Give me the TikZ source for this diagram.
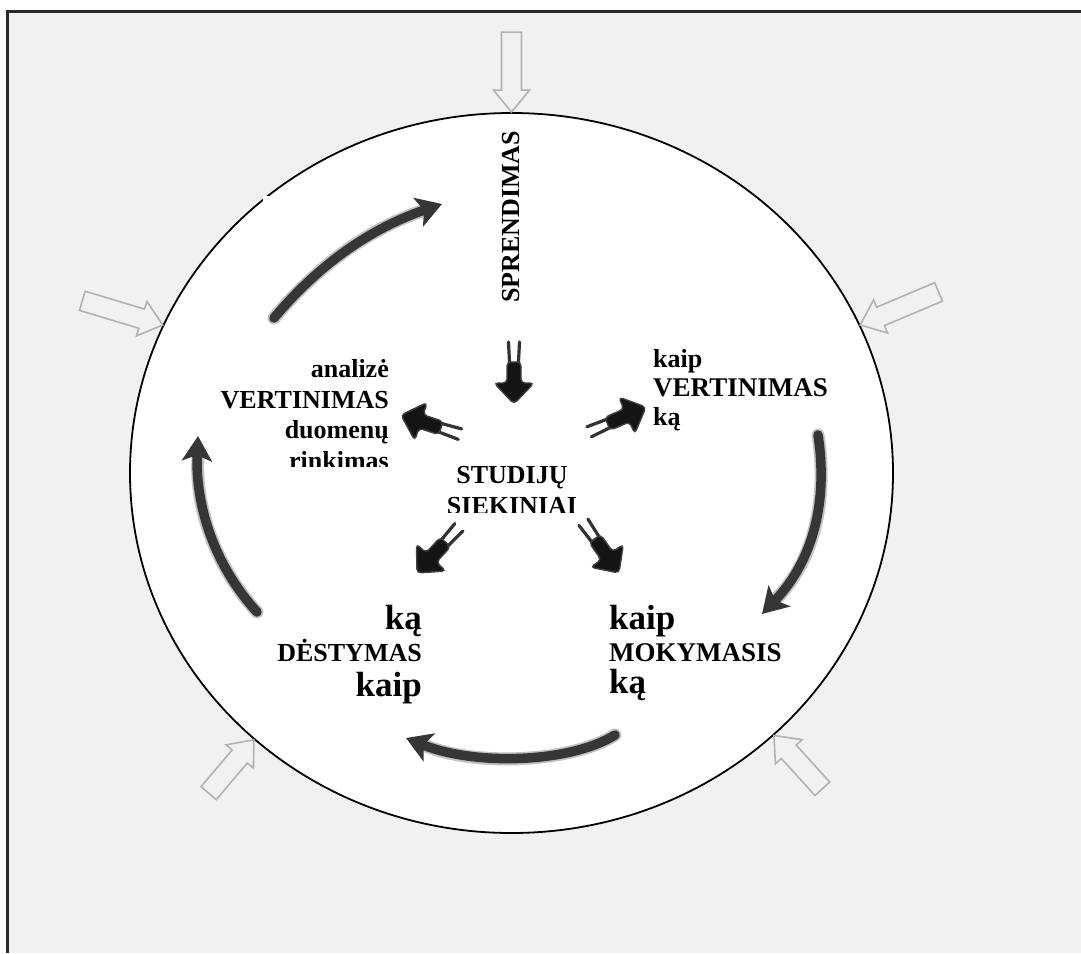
\documentclass[tikz,border=0pt]{standalone}
\usepackage{fontspec}
\setmainfont{Liberation Serif}
\usetikzlibrary{arrows.meta,shapes.geometric}

\definecolor{bggray}{HTML}{F1F1F1}
\definecolor{framegray}{HTML}{2A2A2A}
\definecolor{hollowgray}{HTML}{B2B2B2}
\definecolor{sweep}{HTML}{363636}

\tikzset{
  hollow/.style={draw=hollowgray, line width=1.6pt, fill=bggray, line join=miter},
  sweepline/.style={draw=sweep, line width=9.5pt, line cap=round,
    -{Stealth[length=25pt,width=30pt,inset=6pt]}},
  sweephalo/.style={draw=sweep, opacity=0.3, line width=13pt, line cap=round},
  lbl/.style={font=\bfseries\fontsize{26}{30}\selectfont, inner sep=0pt},
  midlbl/.style={font=\bfseries\fontsize{27}{30}\selectfont, inner sep=0pt},
  biglbl/.style={font=\bfseries\fontsize{35}{38}\selectfont, inner sep=0pt},
  % outlined block arrow, tip at the origin, pointing along +x
  pics/hollowarrow/.style={code={
    \draw[hollow] (0,0) -- (-22,18) -- (-22,10) -- (-#1,10) -- (-#1,-10)
      -- (-22,-10) -- (-22,-18) -- cycle;}},
  % black arrow with a forked tail, tip at the origin, pointing along +x
  pics/feather/.style={code={
    \draw[black!80, line width=3.2pt, line cap=round]
      (-36,4.2) -- (-62,5.5) (-36,-4.2) -- (-62,-5.5);
    \filldraw[fill=black!92, draw=black!75, line width=1.4pt, rounded corners=4pt]
      (0,0) -- (-21,-20) -- (-21,-7) -- (-42,-7) -- (-42,7) -- (-21,7)
      -- (-21,20) -- cycle;}},
}

\begin{document}
\begin{tikzpicture}[x=1pt,y=-1pt]
  \useasboundingbox (0,0) rectangle (1081,953);
  \fill[white] (0,0) rectangle (1081,953);
  \fill[bggray] (7,11) rectangle (1081,953);
  \draw[framegray, line width=3pt] (7,953) -- (7,11) -- (1081,11);

  % the ring
  \node[ellipse, draw, fill=white, line width=1.8pt, minimum width=763pt,
        minimum height=720pt, inner sep=0pt] (ring) at (511.5,473) {};
  \fill[white] (263,195.5) rectangle (300,240);

  % outer arrows pointing at the ring
  \path (ring.north)  pic[rotate=-90]   {hollowarrow=80};
  \path (ring.157.3)  pic[rotate=-16.7] {hollowarrow=84};
  \path (ring.23.6)   pic[rotate=202.9] {hollowarrow=85};
  \path (ring.226.5)  pic[rotate=49.7]  {hollowarrow=70};
  \path (ring.315.4)  pic[rotate=132.2] {hollowarrow=72};

  % cycle arrows
  \coordinate (c1a) at (274,318);  \coordinate (c1b) at (442,204);
  \coordinate (c2a) at (818,435);  \coordinate (c2b) at (762,614);
  \coordinate (c3a) at (615,735);  \coordinate (c3b) at (406,738);
  \coordinate (c4a) at (257,612);  \coordinate (c4b) at (198,436);
  \draw[sweephalo] (c1a) .. controls (310,275) and (360,232) .. (422,211);
  \draw[sweepline] (c1a) .. controls (310,275) and (360,232) .. (c1b);
  \draw[sweephalo] (c2a) .. controls (828,500) and (814,560) .. (777,598);
  \draw[sweepline] (c2a) .. controls (828,500) and (814,560) .. (c2b);
  \draw[sweephalo] (c3a) .. controls (570,763) and (475,766) .. (426,746);
  \draw[sweepline] (c3a) .. controls (570,763) and (475,766) .. (c3b);
  \draw[sweephalo] (c4a) .. controls (214,565) and (195,505) .. (198,458);
  \draw[sweepline] (c4a) .. controls (214,565) and (195,505) .. (c4b);

  % arrows leaving the centre
  \path (514,404) pic[rotate=-90]   {feather};
  \path (401,415) pic[rotate=162]   {feather};
  \path (646,407) pic[rotate=23.6]  {feather};
  \path (417,573) pic[rotate=227.5] {feather};
  \path (619,573) pic[rotate=-55]   {feather};

  % labels
  \node[lbl, rotate=90] (sprend) at (511,217) {SPRENDIMAS};

  \node[lbl] (stud) at (512,483) [anchor=base] {STUDIJŲ};
  \begin{scope}
    \clip (400,490) rectangle (640,512.5);
    \node[lbl] (siek) at (512,514) [anchor=base] {SIEKINIAI};
  \end{scope}

  \node[lbl, anchor=base east] (an) at (389,377) {analizė};
  \node[lbl, anchor=base east] (vl) at (389,408) {VERTINIMAS};
  \node[lbl, anchor=base east] (du) at (389,438) {duomenų};
  \begin{scope}
    \clip (200,440) rectangle (400,466.5);
    \node[lbl, anchor=base east] (ri) at (389,469) {rinkimas};
  \end{scope}

  \node[lbl,    anchor=base west] (k1) at (653,367) {kaip};
  \node[midlbl, anchor=base west] (vr) at (653,396) {VERTINIMAS};
  \node[lbl,    anchor=base west] (k2) at (653,425) {ką};

  \node[biglbl, anchor=base east] (k3) at (422,629) {ką};
  \node[lbl,    anchor=base east] (de) at (422,661) {DĖSTYMAS};
  \node[biglbl, anchor=base east] (k4) at (422,696) {kaip};

  \node[biglbl, anchor=base west] (k5) at (609,629) {kaip};
  \node[midlbl, anchor=base west] (mo) at (609,661) {MOKYMASIS};
  \node[biglbl, anchor=base west] (k6) at (609,693) {ką};
\end{tikzpicture}
\end{document}
